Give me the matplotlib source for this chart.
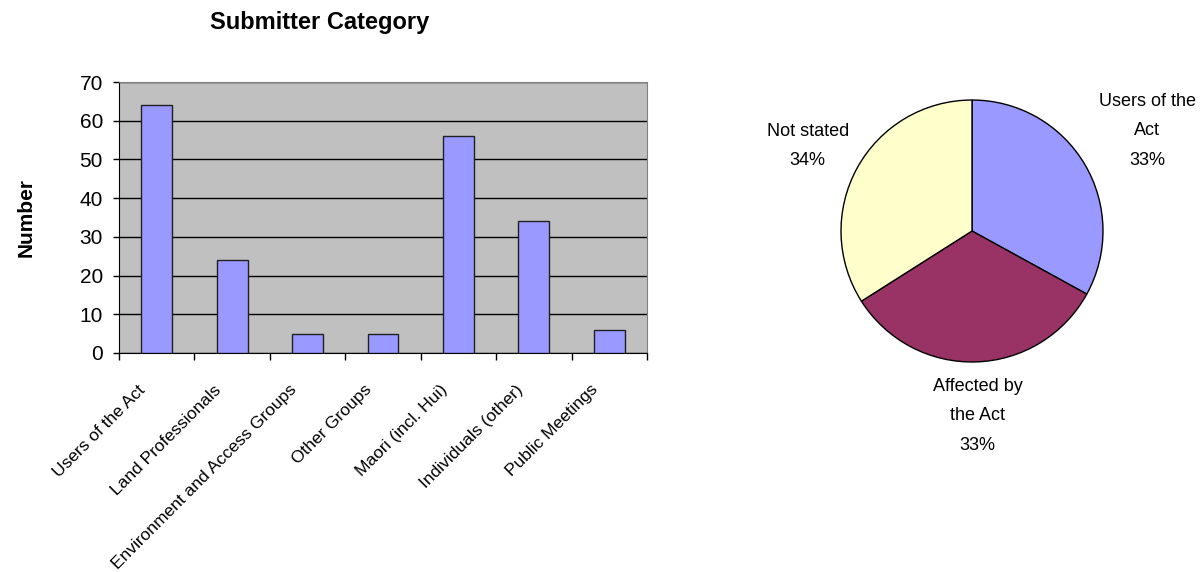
import numpy as np
import matplotlib
matplotlib.use("Agg")
import matplotlib.pyplot as plt

categories = ["Users of the Act", "Land Professionals", "Environment and Access Groups",
              "Other Groups", "Maori (incl. Hui)", "Individuals (other)", "Public Meetings"]
counts = [64, 24, 5, 5, 56, 34, 6]

pie_labels = ["Users of the\nAct", "Affected by\nthe Act", "Not stated"]
pie_shares = [33, 33, 34]
pie_colors = ["#9999FF", "#993366", "#FFFFCC"]

plt.rcParams["font.family"] = ["Liberation Sans", "DejaVu Sans"]

fig = plt.figure(figsize=(12, 5.72), dpi=100)

# bar chart
ax = fig.add_axes([119 / 1200, 1 - 353 / 572, 528 / 1200, 271 / 572])
ax.set_facecolor("#C0C0C0")
x = np.arange(len(categories))
ax.bar(x, counts, width=0.41, color="#9999FF", edgecolor="#202020", linewidth=1, zorder=3)
ax.set_xlim(-0.5, len(categories) - 0.5)
ax.set_ylim(0, 70)
ax.set_yticks(range(0, 71, 10))
ax.yaxis.grid(True, color="black", linewidth=1, zorder=1)
ax.set_axisbelow(True)
# category boundaries get the tick marks, labels sit under each bar
ax.set_xticks(np.arange(len(categories) + 1) - 0.5)
ax.set_xticklabels([])
ax.set_xticks(x - 0.25, minor=True)
ax.set_xticklabels(categories, minor=True, rotation=45, ha="right",
                   rotation_mode="anchor", fontsize=12.5)
ax.tick_params(axis="x", which="minor", length=0, pad=21)
ax.tick_params(axis="x", which="major", length=5, width=1, direction="out")
ax.tick_params(axis="y", length=4.5, width=1, direction="out", labelsize=15, pad=7)
for side in ["top", "right"]:
    ax.spines[side].set_color("#808080")
ax.spines["left"].set_color("black")
ax.spines["bottom"].set_color("black")
ax.set_ylabel("Number", fontsize=15, fontweight="bold", labelpad=32)
fig.text(320 / 1200, 1 - 22 / 572, "Submitter Category", fontsize=17,
         fontweight="bold", ha="center", va="center")

# pie chart
pax = fig.add_axes([(972 - 200) / 1200, (572 - 231 - 200) / 572, 400 / 1200, 400 / 572])
wedges, _ = pax.pie(pie_shares, colors=pie_colors, startangle=90, counterclock=False,
                    radius=0.985, wedgeprops=dict(edgecolor="black", linewidth=1))
pax.set_xlim(-1.504, 1.504)
pax.set_ylim(-1.504, 1.504)
pax.set_aspect("equal")
pax.axis("off")
dist = [1.58, 1.38, 1.41]
nudge = [(-4, -5), (0, -1), (0, -4)]
for w, lab, share, d, off in zip(wedges, pie_labels, pie_shares, dist, nudge):
    mid = np.deg2rad((w.theta1 + w.theta2) / 2)
    pax.annotate(f"{lab}\n{share}%", (d * np.cos(mid), d * np.sin(mid)),
                 xytext=off, textcoords="offset points", ha="center",
                 va="center", fontsize=13, linespacing=1.95)

fig.savefig("out.png", dpi=100)
